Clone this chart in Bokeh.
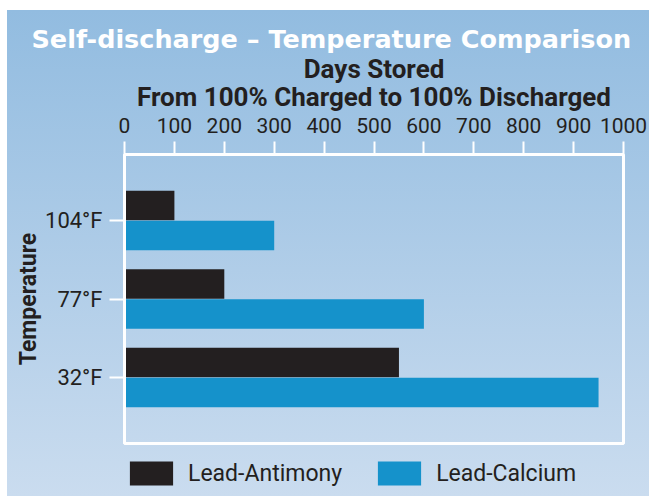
from bokeh.plotting import figure
from bokeh.layouts import column
from bokeh.models import FactorRange, Legend, LegendItem, ColumnDataSource, FixedTicker, Title
from bokeh.transform import dodge
from bokeh.embed import file_html
from bokeh.resources import INLINE

temps = ["32°F", "77°F", "104°F"]
lead_antimony = [550, 200, 100]
lead_calcium = [950, 600, 300]
series = ["Lead-Antimony", "Lead-Calcium"]
x_ticks = [0, 100, 200, 300, 400, 500, 600, 700, 800, 900, 1000]
chart_title = "Self-discharge \u2013 Temperature Comparison"
x_title_1 = "Days Stored"
x_title_2 = "From 100% Charged to 100% Discharged"
y_title = "Temperature"

DARK = "#231f20"
BLUE = "#1592cb"
FONT = "Roboto"

src = ColumnDataSource(dict(temp=temps, sb=lead_antimony, ca=lead_calcium))

p = figure(width=649, height=456,
           x_range=(0, 1000),
           y_range=FactorRange(factors=temps, range_padding=0.227),
           x_axis_location="above",
           output_backend="svg", toolbar_location=None,
           min_border_left=124, min_border_right=26,
           min_border_top=154, min_border_bottom=13)
p.border_fill_alpha = 0
p.background_fill_alpha = 0
p.outline_line_color = "white"
p.outline_line_width = 3
p.grid.visible = False

p.hbar(y=dodge("temp", 0.19, range=p.y_range), left=0, right="sb", height=0.375,
       source=src, color=DARK, line_color=None)
p.hbar(y=dodge("temp", -0.19, range=p.y_range), left=0, right="ca", height=0.375,
       source=src, color=BLUE, line_color=None)

xa = p.xaxis[0]
xa.ticker = FixedTicker(ticks=x_ticks)
xa.axis_label = x_title_2
xa.axis_label_text_font = FONT
xa.axis_label_text_font_style = "bold"
xa.axis_label_text_font_size = "26px"
xa.axis_label_text_color = DARK
xa.axis_label_standoff = 3
xa.major_label_text_font = FONT
xa.major_label_text_font_size = "21px"
xa.major_label_text_color = DARK
xa.major_label_standoff = 9
xa.axis_line_color = "white"
xa.axis_line_width = 3
xa.major_tick_line_color = "white"
xa.major_tick_line_width = 2
xa.major_tick_out = 13
xa.major_tick_in = 0
xa.minor_tick_line_color = None

t_days = Title(text=x_title_1, align="center", text_font=FONT, text_font_style="bold",
               text_font_size="26px", text_color=DARK, standoff=-10)
p.add_layout(t_days, "above")
t_main = Title(text=chart_title, align="left", offset=-93, text_font="DejaVu Sans",
               text_font_style="bold", text_font_size="25.5px", text_color="white", standoff=6)
p.add_layout(t_main, "above")

ya = p.yaxis[0]
ya.axis_label = y_title
ya.axis_label_text_font = FONT
ya.axis_label_text_font_style = "bold"
ya.axis_label_text_font_size = "23px"
ya.axis_label_text_color = DARK
ya.axis_label_standoff = 0
ya.major_label_text_font = FONT
ya.major_label_text_font_size = "22px"
ya.major_label_text_color = DARK
ya.major_label_standoff = 7
ya.axis_line_color = "white"
ya.axis_line_width = 3
ya.major_tick_line_color = "white"
ya.major_tick_line_width = 2
ya.major_tick_out = 15
ya.major_tick_in = 0
ya.minor_tick_line_color = None

# legend strip below the chart (zero-height key bars only feed the legend swatches)
lf = figure(width=649, height=40, x_range=(0, 1000), y_range=FactorRange(factors=temps),
            x_axis_type=None, y_axis_type=None,
            output_backend="svg", toolbar_location=None,
            min_border=0)
lf.border_fill_alpha = 0
lf.background_fill_alpha = 0
lf.outline_line_color = None
lf.grid.visible = False
k1 = lf.hbar(y="temp", left=0, right="sb", height=0, source=src, color=DARK, line_color=None)
k2 = lf.hbar(y="temp", left=0, right="ca", height=0, source=src, color=BLUE, line_color=None)
legend = Legend(items=[LegendItem(label=series[0], renderers=[k1]),
                       LegendItem(label=series[1], renderers=[k2])],
                orientation="horizontal", location=(0, 8),
                glyph_width=54, glyph_height=30, label_standoff=10, spacing=30,
                padding=0, margin=0,
                label_text_font=FONT, label_text_font_size="23px",
                label_text_color=DARK, label_height=30,
                background_fill_alpha=0, border_line_color=None)
lf.add_layout(legend, "center")

page = column(p, lf, spacing=0,
              styles={"background": "linear-gradient(to bottom, #92bce0, #cadcef) 7px 10px / 642px 486px no-repeat, #ffffff"})

open("out.html", "w").write(file_html(page, INLINE))
